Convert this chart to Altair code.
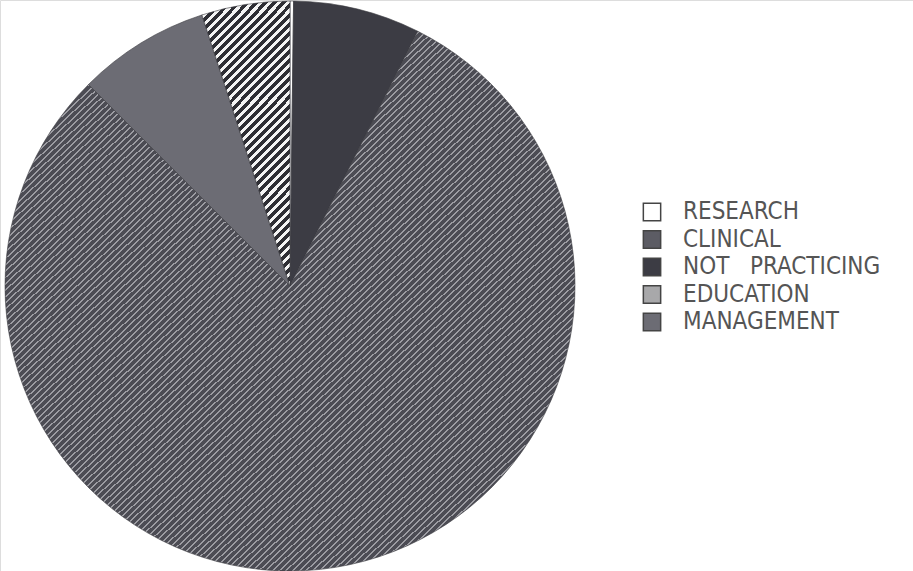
import altair as alt
import pandas as pd

# Slices in drawing order (clockwise from 12 o'clock)
categories = ["RESEARCH", "NOT PRACTICING", "CLINICAL", "MANAGEMENT", "EDUCATION"]
shares = [0.2, 7.2, 80.1, 7.5, 5.0]
legend_order = ["RESEARCH", "CLINICAL", "NOT PRACTICING", "EDUCATION", "MANAGEMENT"]
legend_colors = ["#ffffff", "#5c5c64", "#3c3c44", "#a8a8aa", "#6c6c74"]

df = pd.DataFrame({
    "category": categories,
    "share": shares,
    "idx": list(range(len(categories))),
})


def stripes(n, dark, light, light_frac, x2, y2):
    """Build a repeating two-colour linear gradient (hatching imitation)."""
    stops = []
    for i in range(n):
        a = i / n
        b = (i + 1 - light_frac) / n
        c = (i + 1) / n
        stops += [
            {"offset": a, "color": dark},
            {"offset": b, "color": dark},
            {"offset": b, "color": light},
            {"offset": c, "color": light},
        ]
    return {"gradient": "linear", "x1": 0, "y1": 0, "x2": x2, "y2": y2, "stops": stops}


edu_fill = stripes(110, "#2e2e34", "#f4f4f4", 0.45, 1, 3.2)
clin_fill = stripes(170, "#4c4c54", "#9c9ca2", 0.3, 1, 1)

chart = alt.Chart(df).mark_arc(
    radius=285, stroke="#3a3a40", strokeWidth=0.6
).encode(
    theta=alt.Theta("share:Q", stack=True),
    order=alt.Order("idx:Q"),
    fill=alt.Fill(
        "category:N",
        scale=alt.Scale(domain=legend_order, range=legend_colors),
        condition=[
            {"test": "datum.category === 'EDUCATION'", "value": edu_fill},
            {"test": "datum.category === 'CLINICAL'", "value": clin_fill},
        ],
        legend=alt.Legend(
            title=None,
            orient="none",
            legendX=640,
            legendY=200,
            symbolType="square",
            symbolSize=300,
            symbolStrokeColor="#444444",
            symbolStrokeWidth=1.5,
            labelFont="DejaVu Sans Condensed",
            labelFontSize=24,
            labelColor="#555555",
            labelOffset=19,
            labelExpr="datum.label == 'NOT PRACTICING' ? 'NOT\u00a0\u00a0\u00a0PRACTICING' : datum.label",
            rowPadding=3.5,
            labelLimit=400,
        ),
    ),
    x=alt.value(290),
    y=alt.value(286),
).properties(
    width=913, height=571, padding=0,
    autosize=alt.AutoSizeParams(type="none"),
).configure_view(stroke=None).configure(background="#ffffff")

chart.save("out.html", embed_options={"renderer": "svg", "actions": False})
